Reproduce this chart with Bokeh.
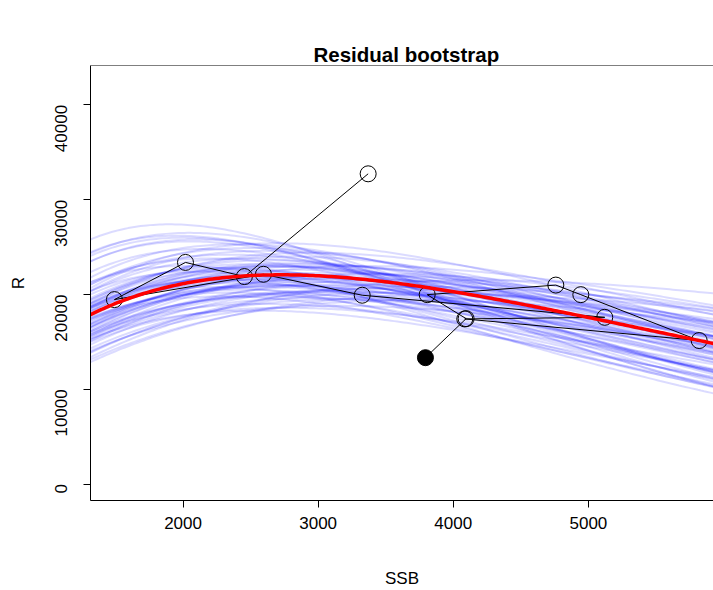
import numpy as np
from bokeh.plotting import figure
from bokeh.models import Range1d, FixedTicker, Span, Title
from bokeh.embed import file_html
from bokeh.resources import INLINE

# Observed stock-recruitment pairs, in time order (last one filled)
ssb = [3370, 2454, 2018, 1492, 2595, 3326, 5121, 4085, 5820, 4944, 4759, 3807, 4095, 3794]
rec = [32730, 21890, 23380, 19460, 22130, 19920, 17590, 17420, 15140, 19980, 20990, 19980, 17450, 13330]

# Fitted Ricker curve, given by its peak (SSB at peak, R at peak)
fit_peak_ssb = 2725
fit_peak_rec = 22074

# Bootstrap Ricker curves, each given by its peak (SSB at peak, R at peak)
boot_peak_ssb = [2725, 2500, 2950, 2300, 3200, 2600, 2850, 2400, 3100, 2200,
                 3400, 2650, 2750, 2550, 3000, 2450, 2900, 2350, 3300, 2100,
                 3600, 2800, 2700, 2500, 3050, 2250, 3500, 2600, 2950, 2400,
                 1900, 4000, 2650, 2800, 3150, 2350, 2750, 2550, 3250, 2150,
                 3800, 2700, 2450, 2900, 3000, 2600, 2050, 3700, 2850, 2500,
                 2750, 3350, 2300, 2650, 4200, 2000, 2950, 2550, 3100, 2400,
                 2200, 3450, 2800, 2600, 2900, 2350, 3150, 2700, 2480, 3050,
                 1950, 2050, 2000, 2100]
boot_peak_rec = [22000, 23200, 21300, 22800, 21000, 21600, 22600, 21200, 22300, 23800,
                 20600, 23600, 20900, 22400, 23000, 20500, 21800, 24200, 22100, 22400,
                 20200, 24000, 19800, 21900, 20400, 21500, 21500, 24600, 19600, 22600,
                 27400, 20000, 21000, 23300, 21700, 20200, 22900, 20800, 19500, 24800,
                 20800, 23000, 23800, 20200, 22000, 19000, 25600, 19400, 21000, 24900,
                 18600, 23000, 19800, 22200, 21500, 23000, 24400, 18300, 20300, 25300,
                 20800, 22200, 20000, 23000, 23200, 21600, 18800, 25400, 22000, 21600,
                 26200, 26500, 26000, 25800]

x_ticks = [2000, 3000, 4000, 5000]
y_ticks = [0, 10000, 20000, 30000, 40000]

x_lo, x_hi = 1315, 5926
y_lo, y_hi = -1735, 44156


def ricker(s, s_peak, r_peak):
    s = np.asarray(s, dtype=float)
    return r_peak * (s / s_peak) * np.exp(1.0 - s / s_peak)


grid = np.linspace(x_lo, x_hi, 200)

p = figure(width=713, height=590, output_backend="svg", toolbar_location=None,
           x_range=Range1d(x_lo, x_hi), y_range=Range1d(y_lo, y_hi),
           min_border_left=90, min_border_right=0, min_border_top=65,
           min_border_bottom=83)
p.outline_line_color = None
p.xgrid.visible = False
p.ygrid.visible = False
p.background_fill_color = "white"
p.border_fill_color = "white"

# invisible spacer between the title and the plot box, to lift the title
p.add_layout(Title(text=" ", text_font="Liberation Sans", text_font_size="20.5px",
                   text_alpha=0, standoff=6), "above")

p.title.text = "Residual bootstrap"
p.title.text_font = "Liberation Sans"
p.title.text_font_size = "20.5px"
p.title.text_font_style = "bold"
p.title.text_color = "black"
p.title.align = "left"
p.title.offset = 223
p.title.standoff = 0

for ax in (p.xaxis[0], p.yaxis[0]):
    ax.major_tick_out = 7
    ax.major_tick_in = 0
    ax.minor_tick_line_color = None
    ax.axis_line_color = "black"
    ax.major_tick_line_color = "black"
    ax.major_label_text_font = "Liberation Sans"
    ax.major_label_text_font_size = "17px"
    ax.major_label_text_color = "black"
    ax.axis_label_text_font = "Liberation Sans"
    ax.axis_label_text_font_size = "17px"
    ax.axis_label_text_font_style = "normal"
    ax.axis_label_text_color = "black"

p.xaxis.ticker = FixedTicker(ticks=x_ticks)
p.yaxis.ticker = FixedTicker(ticks=y_ticks)
p.xaxis.axis_label = "SSB"
p.yaxis.axis_label = "R"
p.yaxis.major_label_orientation = np.pi / 2
p.xaxis.major_label_standoff = 9
p.xaxis.axis_label_standoff = 37
p.yaxis.major_label_standoff = 22
p.yaxis.axis_label_standoff = 19

# top border of the box
p.add_layout(Span(location=y_hi, dimension="width", line_color="black", line_width=1))

# bootstrap curves
xs = [list(grid) for _ in boot_peak_ssb]
ys = [list(ricker(grid, sp, rp)) for sp, rp in zip(boot_peak_ssb, boot_peak_rec)]
p.multi_line(xs=xs, ys=ys, line_color="blue", line_alpha=0.14, line_width=2)

# observed path
p.line(ssb, rec, line_color="black", line_width=1)
p.scatter(ssb[:-1], rec[:-1], marker="circle", size=16, fill_color=None,
          line_color="black", line_width=1)
p.scatter(ssb[-1:], rec[-1:], marker="circle", size=16, fill_color="black",
          line_color="black", line_width=1)

# fitted curve
p.line(grid, ricker(grid, fit_peak_ssb, fit_peak_rec), line_color="red", line_width=3.5)

open("out.html", "w").write(file_html(p, INLINE))
